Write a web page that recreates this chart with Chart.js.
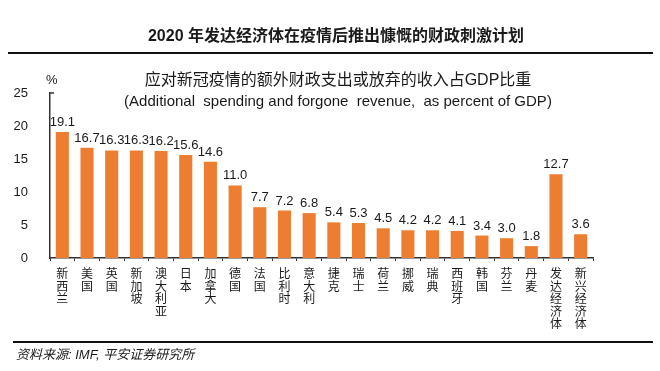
<!DOCTYPE html>
<html>
<head>
<meta charset="utf-8">
<script src="https://cdn.jsdelivr.net/npm/chart.js@4"></script>
<style>
  html, body { margin: 0; padding: 0; background: #fff; }
  #wrap { position: relative; width: 660px; height: 371px; overflow: hidden;
          font-family: "Liberation Sans", "Noto Sans CJK SC", sans-serif; color: #1a1a1a; }
  #chart { position: absolute; left: 0; top: 0; }
  .title { position: absolute; left: 0; width: 672px; top: 26px; text-align: center;
           font-size: 16px; font-weight: bold; line-height: 20px; }
  .rule { position: absolute; height: 2px; background: #111; }
  .sub { position: absolute; left: 0; width: 676px; text-align: center; line-height: 18px; }
  .unit { position: absolute; left: 46px; top: 72px; font-size: 13px; }
  .source { position: absolute; left: 16px; top: 344px; font-size: 13px; font-style: italic; }
</style>
</head>
<body>
<div id="wrap">
  <canvas id="chart" width="660" height="371"></canvas>
  <div class="title">2020 年发达经济体在疫情后推出慷慨的财政刺激计划</div>
  <div class="rule" style="left:8px; width:645px; top:52px;"></div>
  <div class="sub" style="top:71px; font-size:16px;">应对新冠疫情的额外财政支出或放弃的收入占GDP比重</div>
  <div class="sub" style="top:92px; font-size:15px; white-space: pre;">(Additional  spending and forgone  revenue,  as percent of GDP)</div>
  <div class="unit">%</div>
  <div class="rule" style="left:13px; width:640px; top:341px;"></div>
  <div class="source">资料来源: IMF, 平安证券研究所</div>
</div>
<script>
// 各经济体名称（竖排显示）
const countries = ['新西兰', '美国', '英国', '新加坡', '澳大利亚', '日本', '加拿大', '德国', '法国', '比利时', '意大利',
    '捷克', '瑞士', '荷兰', '挪威', '瑞典', '西班牙', '韩国', '芬兰', '丹麦', '发达经济体', '新兴经济体'];
// 占GDP比重 %
const shareOfGdp = [19.1, 16.7, 16.3, 16.3, 16.2, 15.6, 14.6, 11.0, 7.7, 7.2, 6.8,
    5.4, 5.3, 4.5, 4.2, 4.2, 4.1, 3.4, 3.0, 1.8, 12.7, 3.6];
const yTicks = [0, 5, 10, 15, 20, 25];

const FONT = '"Liberation Sans", "Noto Sans CJK SC", sans-serif';

// 柱顶数值 + y轴顶端的小刻度
const barValues = {
    id: 'barValues',
    afterDatasetsDraw(chart) {
        const { ctx, scales: { y } } = chart;
        const meta = chart.getDatasetMeta(0);
        ctx.save();
        ctx.font = '13px ' + FONT;
        ctx.fillStyle = '#1a1a1a';
        ctx.textAlign = 'center';
        ctx.textBaseline = 'bottom';
        meta.data.forEach((bar, i) => {
            ctx.fillText(shareOfGdp[i].toFixed(1), bar.x, bar.y - 3);
        });
        const top = y.getPixelForValue(y.max);
        ctx.strokeStyle = '#333';
        ctx.lineWidth = 1.5;
        ctx.beginPath();
        ctx.moveTo(y.right, top);
        ctx.lineTo(y.right + 4, top);
        ctx.stroke();
        ctx.restore();
    }
};

new Chart(document.getElementById('chart'), {
    type: 'bar',
    plugins: [barValues],
    data: {
        labels: countries.map(name => name.split('')),
        datasets: [{
            data: shareOfGdp,
            backgroundColor: '#ed7d31',
            barPercentage: 0.53,
            categoryPercentage: 1
        }]
    },
    options: {
        responsive: false,
        animation: false,
        layout: { padding: { left: 10, right: 67, top: 93, bottom: 30 } },
        plugins: { legend: { display: false }, tooltip: { enabled: false } },
        scales: {
            x: {
                afterFit: s => { s.height = 83; },
                grid: { display: true, drawOnChartArea: false, offset: true, tickLength: 3, color: '#333' },
                border: { color: '#333', width: 1.5 },
                ticks: {
                    autoSkip: false, maxRotation: 0, padding: 8, color: '#1a1a1a',
                    font: { family: FONT, size: 12, lineHeight: 1.03 }
                }
            },
            y: {
                min: 0,
                max: 25,
                afterFit: s => { s.width = 40; },
                afterBuildTicks: s => { s.ticks = yTicks.map(v => ({ value: v })); },
                grid: { display: false },
                border: { color: '#333', width: 1.5 },
                ticks: { padding: 14, color: '#1a1a1a', font: { family: FONT, size: 13 } }
            }
        }
    }
});
</script>
</body>
</html>
